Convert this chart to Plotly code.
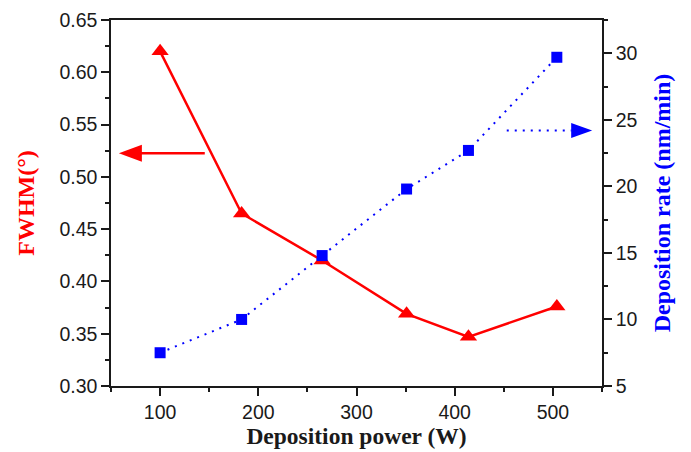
import plotly.graph_objects as go

power = [100, 183, 265, 351, 414, 504]
fwhm = [0.620, 0.465, 0.420, 0.369, 0.347, 0.376]
rate = [7.5, 10.0, 14.8, 19.8, 22.7, 29.7]

x_ticks = [100, 200, 300, 400, 500]
y1_ticks = [0.30, 0.35, 0.40, 0.45, 0.50, 0.55, 0.60, 0.65]
y2_ticks = [5, 10, 15, 20, 25, 30]

RED = "#ff0000"
BLUE = "#0000ff"
tickfont = dict(family="Liberation Sans, Arial", size=19.5, color="#1a1a1a")
SERIF = "Liberation Serif, Times New Roman"

fig = go.Figure()
fig.add_trace(go.Scatter(
    x=power, y=fwhm, mode="lines+markers", yaxis="y",
    line=dict(color=RED, width=2.5),
    marker=dict(symbol="triangle-up", size=15, color=RED),
    showlegend=False, cliponaxis=False))
fig.add_trace(go.Scatter(
    x=power, y=rate, mode="lines+markers", yaxis="y2",
    line=dict(color=BLUE, width=2, dash="2px,6px"),
    marker=dict(symbol="square", size=11, color=BLUE),
    showlegend=False, cliponaxis=False))

# Arrow shafts
fig.add_shape(type="line", xref="x", yref="y", x0=80, x1=145.5, y0=0.5225, y1=0.5225,
              line=dict(color=RED, width=2.5))
fig.add_shape(type="line", xref="x", yref="y2", x0=453, x1=519, y0=24.2, y1=24.2,
              line=dict(color=BLUE, width=2, dash="2px,6px"))
# Arrow heads (pixel-sized paths anchored at the tip)
fig.add_shape(type="path", xref="x", yref="y", xsizemode="pixel", ysizemode="pixel",
              xanchor=58, yanchor=0.5225, path="M0,0 L23,8.5 L23,-8.5 Z",
              fillcolor=RED, line=dict(color=RED, width=0))
fig.add_shape(type="path", xref="x", yref="y2", xsizemode="pixel", ysizemode="pixel",
              xanchor=540, yanchor=24.2, path="M0,0 L-21,7.5 L-21,-7.5 Z",
              fillcolor=BLUE, line=dict(color=BLUE, width=0))

axis_common = dict(showgrid=False, zeroline=False, showline=True, linecolor="#1a1a1a",
                   linewidth=1.5, ticks="outside", ticklen=8, tickwidth=1.5,
                   tickcolor="#1a1a1a", tickfont=tickfont, automargin=False)

# page body has an 8px margin, so the figure is sized/offset to compensate
fig.update_layout(
    width=683, height=444,
    margin=dict(l=103, r=89, t=12, b=66),
    plot_bgcolor="white", paper_bgcolor="white",
    xaxis=dict(range=[50, 550], tickvals=x_ticks, mirror=True,
               minor=dict(dtick=50, tick0=50, ticks="outside", ticklen=4, tickwidth=1.5,
                          tickcolor="#1a1a1a"),
               title=dict(text="<b>Deposition power (W)</b>", standoff=2,
                          font=dict(family=SERIF, size=23.5, color="#1a1a1a")),
               **axis_common),
    yaxis=dict(range=[0.30, 0.65], tickvals=y1_ticks, tickformat=".2f",
               minor=dict(dtick=0.025, tick0=0.30, ticks="outside", ticklen=4, tickwidth=1.5,
                          tickcolor="#1a1a1a"),
               title=dict(text="<b>FWHM(°)</b>", standoff=18,
                          font=dict(family=SERIF, size=24, color=RED)),
               **axis_common),
    yaxis2=dict(range=[5, 32.5], tickvals=y2_ticks, overlaying="y", side="right",
                minor=dict(dtick=2.5, tick0=5, ticks="outside", ticklen=4, tickwidth=1.5,
                           tickcolor="#1a1a1a"),
                title=dict(text="<b>Deposition rate (nm/min)</b>", standoff=17,
                           font=dict(family=SERIF, size=24, color=BLUE)),
                **axis_common),
)

fig.write_html("out.html")
